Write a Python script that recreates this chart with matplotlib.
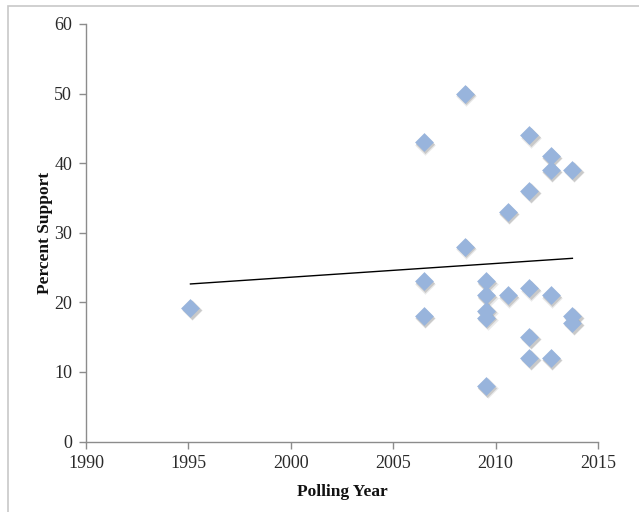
import matplotlib
matplotlib.use("Agg")
import matplotlib.pyplot as plt
import matplotlib.transforms as mtransforms
from matplotlib.patches import Rectangle
import numpy as np

years = [1995.1,
         2006.5, 2006.5, 2006.5,
         2008.5, 2008.5,
         2009.55, 2009.55, 2009.55, 2009.55, 2009.55,
         2010.6, 2010.6,
         2011.65, 2011.65, 2011.65, 2011.65, 2011.65,
         2012.7, 2012.7, 2012.7, 2012.7,
         2013.75, 2013.75, 2013.75]
support = [19.2,
           43, 23, 18,
           50, 28,
           23, 21, 18.8, 17.8, 8,
           33, 21,
           44, 36, 22, 15, 12,
           41, 39, 21, 12,
           39, 18, 17]

x_ticks = [1990, 1995, 2000, 2005, 2010, 2015]
y_ticks = [0, 10, 20, 30, 40, 50, 60]

plt.rcParams['font.family'] = ['Liberation Serif', 'DejaVu Serif']

fig = plt.figure(figsize=(6.39, 5.12), dpi=100)
ax = fig.add_axes([86/639, 1-441.5/512, (598-86)/639, (441.5-24)/512])

# outer frame
fig.patches.append(Rectangle((8/639, -0.1), 1.2, 1-6/512+0.1, transform=fig.transFigure,
                             fill=False, edgecolor='#c8c8c8', linewidth=1.2))

x = np.array(years)
y = np.array(support)

for dx, dy, s, a in [(1.0, -1.6, 110, 0.12), (0.8, -1.2, 95, 0.22)]:
    shadow = mtransforms.offset_copy(ax.transData, fig=fig, x=dx, y=dy, units='points')
    ax.scatter(x, y, marker='D', s=s, color='#555555', alpha=a, linewidths=0,
               transform=shadow, zorder=2)
ax.scatter(x, y, marker='D', s=92, color='#98b4dc', linewidths=0, zorder=3)

k, b = np.polyfit(x, y, 1)
xs = np.array([x.min(), x.max()])
ax.plot(xs, k*xs + b, color='black', linewidth=1.0, zorder=4)

ax.set_xlim(1990, 2015)
ax.set_ylim(0, 60)
ax.set_xticks(x_ticks)
ax.set_yticks(y_ticks)
for s in ['top', 'right']:
    ax.spines[s].set_visible(False)
for s in ['left', 'bottom']:
    ax.spines[s].set_color('#8c8c8c')
    ax.spines[s].set_linewidth(1.0)
ax.tick_params(direction='out', length=5, width=1, color='#8c8c8c',
               labelsize=13, labelcolor='#2a2a2a', pad=5)
ax.set_xlabel('Polling Year', fontsize=12.5, fontweight='bold', labelpad=8, color='#111111')
ax.set_ylabel('Percent Support', fontsize=12.5, fontweight='bold', labelpad=1, color='#111111')

fig.savefig('out.png', dpi=100)
